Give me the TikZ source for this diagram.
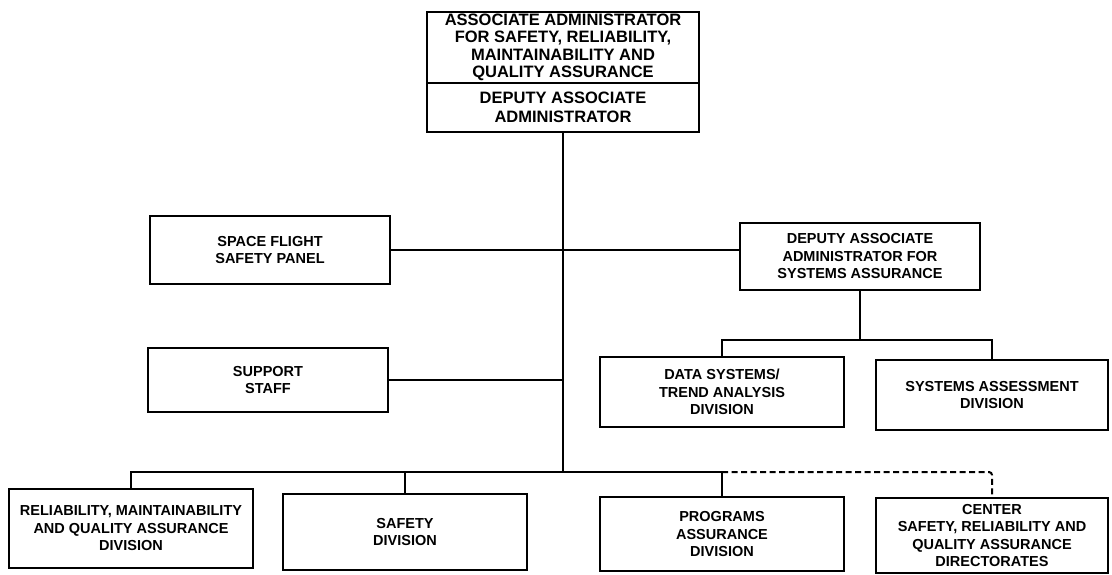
\documentclass[tikz,border=0pt]{standalone}
\usepackage{fontspec}
\setmainfont{Liberation Sans}

\begin{document}
\begin{tikzpicture}[x=1pt, y=-1pt,
    orgbox/.style={draw=black, line width=2pt, align=center, inner sep=0pt,
        font=\fontsize{14.5}{17.5}\selectfont\bfseries},
    topbox/.style={orgbox, minimum width=272pt,
        font=\fontsize{16.5}{17.5}\selectfont\bfseries},
    link/.style={line width=2pt}]

    \useasboundingbox (0,0) rectangle (1112,574);

    % Top office
    \node[topbox, minimum height=71pt] (aa) at (563,47.5)
        {ASSOCIATE ADMINISTRATOR\\FOR SAFETY, RELIABILITY,\\MAINTAINABILITY AND\\QUALITY ASSURANCE};
    \node[topbox, minimum height=49pt, font=\fontsize{16.5}{19}\selectfont\bfseries] (daa) at (563,107.5)
        {DEPUTY ASSOCIATE\\ADMINISTRATOR};

    % Staff offices
    \node[orgbox, minimum width=240pt, minimum height=68pt] (sfp) at (270,250)
        {SPACE FLIGHT\\SAFETY PANEL};
    \node[orgbox, minimum width=240pt, minimum height=64pt] (sup) at (268,380)
        {SUPPORT\\STAFF};

    % Systems assurance branch
    \node[orgbox, minimum width=240pt, minimum height=67pt] (dsa) at (860,256.5)
        {DEPUTY ASSOCIATE\\ADMINISTRATOR FOR\\SYSTEMS ASSURANCE};
    \node[orgbox, minimum width=244pt, minimum height=70pt] (dts) at (722,392)
        {DATA SYSTEMS/\\TREND ANALYSIS\\DIVISION};
    \node[orgbox, minimum width=232pt, minimum height=70pt] (sas) at (992,395)
        {SYSTEMS ASSESSMENT\\DIVISION};

    % Divisions
    \node[orgbox, minimum width=244pt, minimum height=79pt] (rmq) at (131,528.5)
        {RELIABILITY, MAINTAINABILITY\\AND QUALITY ASSURANCE\\DIVISION};
    \node[orgbox, minimum width=244pt, minimum height=76pt] (saf) at (405,532)
        {SAFETY\\DIVISION};
    \node[orgbox, minimum width=244pt, minimum height=74pt] (pad) at (722,534)
        {PROGRAMS\\ASSURANCE\\DIVISION};
    \node[orgbox, minimum width=232pt, minimum height=75pt] (csr) at (992,535.5)
        {CENTER\\SAFETY, RELIABILITY AND\\QUALITY ASSURANCE\\DIRECTORATES};

    % Bus levels
    \coordinate (sbus) at (0,340);
    \coordinate (bbus) at (0,472);

    % Main line
    \draw[link] (daa.south) -- (daa.south |- bbus);
    \draw[link] (sfp.east) -- (sfp.east -| dsa.west);
    \draw[link] (sup.east) -- (sup.east -| daa.south);

    % Systems assurance split
    \draw[link] (dsa.south) -- (dsa.south |- sbus);
    \draw[link] (dts.north) -- (dts.north |- sbus) -| (sas.north);

    % Division bus
    \draw[link] (rmq.north) -- (rmq.north |- bbus) -| (pad.north);
    \draw[link] (saf.north) -- (saf.north |- bbus);
    \draw[link, dash pattern=on 6pt off 3.5pt, rounded corners=3pt]
        (pad.north |- bbus) -| (csr.north);

\end{tikzpicture}
\end{document}
